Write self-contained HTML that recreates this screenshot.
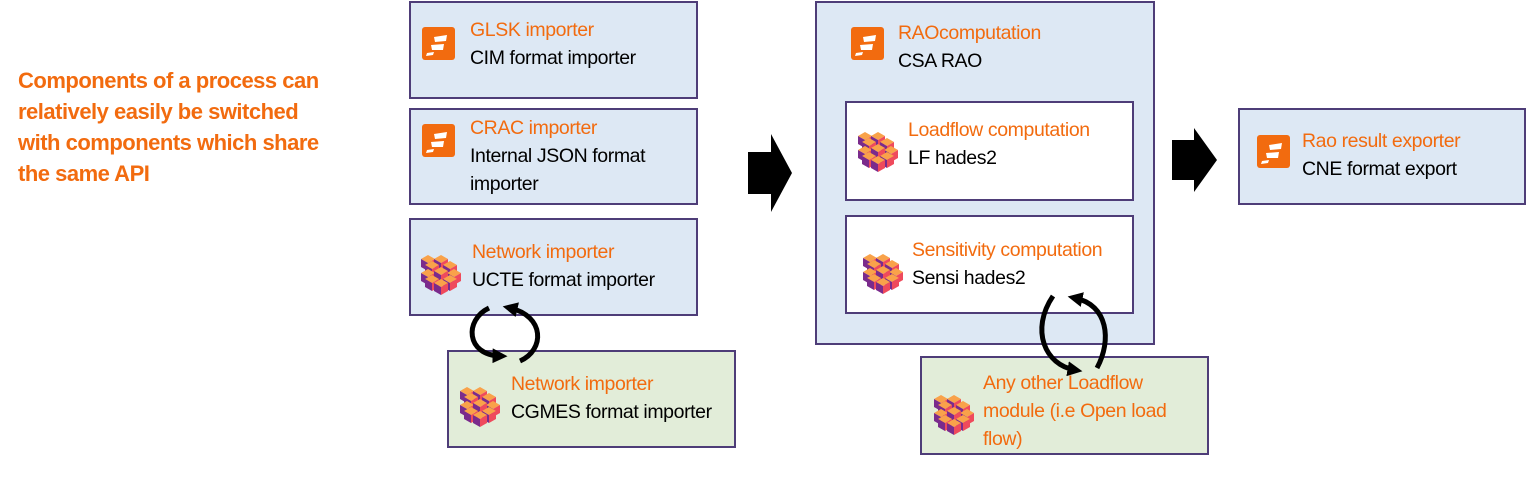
<!DOCTYPE html>
<html><head><meta charset="utf-8"><style>
body{margin:0;width:1526px;height:487px;background:#fff;position:relative;overflow:hidden;font-family:"Liberation Sans",Arial,sans-serif;}
.b{position:absolute;box-sizing:border-box;border:2px solid #4e3d78;background:#dde8f4;}
.g{background:#e2edd9;}
.w{background:#fff;}
.t{position:absolute;font-size:19.5px;line-height:28px;letter-spacing:-0.4px;color:#000;white-space:nowrap;}
.o{color:#f26b0f;}
.lt{position:absolute;left:18px;top:65px;font-size:22px;font-weight:bold;color:#f26b0f;line-height:31px;letter-spacing:-0.5px;}
svg{position:absolute;left:0;top:0;}
</style></head><body>
<div class="lt">Components of a process can<br>relatively easily be switched<br>with components which share<br>the same API</div>

<div class="b" style="left:409px;top:1px;width:289px;height:98px"></div>
<div class="b" style="left:409px;top:108px;width:289px;height:97px"></div>
<div class="b" style="left:409px;top:218px;width:289px;height:98px"></div>
<div class="b g" style="left:447px;top:350px;width:289px;height:98px"></div>
<div class="b" style="left:815px;top:1px;width:340px;height:344px"></div>
<div class="b w" style="left:845px;top:101px;width:289px;height:100px"></div>
<div class="b w" style="left:845px;top:215px;width:289px;height:99px"></div>
<div class="b g" style="left:920px;top:356px;width:289px;height:99px"></div>
<div class="b" style="left:1238px;top:108px;width:288px;height:97px"></div>

<div class="t" style="left:470px;top:16px"><span class="o">GLSK importer</span><br>CIM format importer</div>
<div class="t" style="left:470px;top:114px"><span class="o">CRAC importer</span><br>Internal JSON format<br>importer</div>
<div class="t" style="left:472px;top:238px"><span class="o">Network importer</span><br>UCTE format importer</div>
<div class="t" style="left:511px;top:370px"><span class="o">Network importer</span><br>CGMES format importer</div>
<div class="t" style="left:898px;top:19px"><span class="o">RAOcomputation</span><br>CSA RAO</div>
<div class="t" style="left:908px;top:116px"><span class="o">Loadflow computation</span><br>LF hades2</div>
<div class="t" style="left:912px;top:236px"><span class="o">Sensitivity computation</span><br>Sensi hades2</div>
<div class="t o" style="left:983px;top:369px">Any other Loadflow<br>module (i.e Open load<br>flow)</div>
<div class="t" style="left:1302px;top:127px"><span class="o">Rao result exporter</span><br>CNE format export</div>

<svg width="1526" height="487">
<defs>
<g id="fi"><rect x="0" y="0" width="33" height="33" rx="3" fill="#f26b0f"/>
<path d="M12 10 L25 8 L24 14 L13 15Z M9 18 L22 17 L21 23 L10 23Z M5 26 L12 25 L11 28 L4 29Z" fill="#fff"/></g>
<g id="cu">
<g id="c1"><path d="M0 4 L7 0 L14 4 L7 8Z" fill="#f9a24a"/><path d="M0 4 L7 8 L7 16 L0 12Z" fill="#7a2b8c"/><path d="M14 4 L7 8 L7 16 L14 12Z" fill="#ef4a5c"/></g>
<use href="#c1" x="13" y="0"/><use href="#c1" x="4" y="6"/><use href="#c1" x="22" y="6"/>
<use href="#c1" x="0" y="14"/><use href="#c1" x="26" y="14"/><use href="#c1" x="13" y="12"/>
<use href="#c1" x="4" y="20"/><use href="#c1" x="22" y="20"/><use href="#c1" x="13" y="24"/>
</g>
<marker id="ah" markerWidth="3" markerHeight="3" refX="1.5" refY="1.5" orient="auto"><path d="M0 0 L3 1.5 L0 3Z" fill="#000"/></marker>
</defs>
<use href="#fi" x="422" y="27"/>
<use href="#fi" x="422" y="124"/>
<use href="#fi" x="851" y="27"/>
<use href="#fi" x="1257" y="135"/>
<use href="#cu" x="421" y="255"/>
<use href="#cu" x="460" y="387"/>
<use href="#cu" x="858" y="132"/>
<use href="#cu" x="863" y="254"/>
<use href="#cu" x="934" y="395"/>
<path d="M748 152 L771 152 L771 134 L792 173 L771 212 L771 194 L748 194Z" fill="#000"/>
<path d="M1172 140 L1194 140 L1194 128 L1217 160 L1194 192 L1194 180 L1172 180Z" fill="#000"/>
<path d="M489 308 C464 320 466 355 500 356" stroke="#000" stroke-width="5" fill="none" marker-end="url(#ah)"/>
<path d="M520 361 C545 350 545 316 510 308" stroke="#000" stroke-width="5" fill="none" marker-end="url(#ah)"/>
<path d="M1053 296 C1030 330 1045 365 1075 370" stroke="#000" stroke-width="5" fill="none" marker-end="url(#ah)"/>
<path d="M1097 368 C1112 340 1108 305 1075 298" stroke="#000" stroke-width="5" fill="none" marker-end="url(#ah)"/>
</svg>
</body></html>
